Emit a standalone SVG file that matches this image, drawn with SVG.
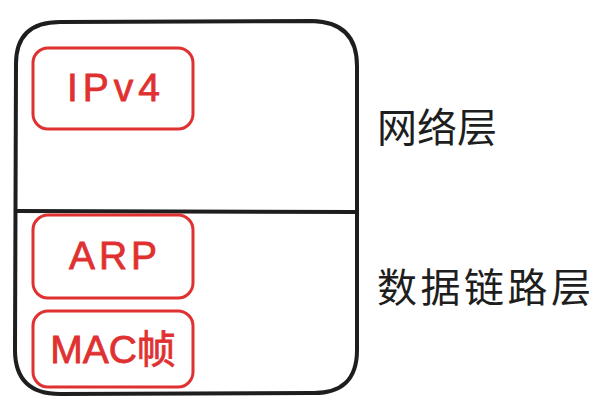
<svg xmlns="http://www.w3.org/2000/svg" width="604" height="403" viewBox="0 0 604 403">
<style>
.outer{fill:none;stroke:#1e1e1e;stroke-width:4;stroke-linecap:round;stroke-linejoin:round}
.box{fill:none;stroke:#e03131;stroke-width:3;stroke-linecap:round}
.t{font-family:"Liberation Sans","Noto Sans CJK SC",sans-serif;fill:#e03131;stroke:#e03131;stroke-width:0.8;font-size:39px;text-anchor:middle}
.lbl{font-family:"Noto Sans CJK SC",sans-serif;fill:#1e1e1e;font-size:40px}
</style>
<rect width="604" height="403" fill="#ffffff"/>
<g id="stack">
<path class="outer" d="M60 22 L312 21 Q357 22 357 66 L357 350 Q357 394 312 393 L60 394 Q15 394 15 350 L16 64 Q16 22 60 22 Z"/>
<path class="outer" d="M16 211 L357 212"/>
</g>
<g id="ipv4">
<rect class="box" x="33" y="48" width="160" height="81" rx="15"/>
<text class="t" x="116" y="101" letter-spacing="5">IPv4</text>
</g>
<g id="arp">
<rect class="box" x="33" y="215" width="160" height="83" rx="15"/>
<text class="t" x="115" y="269" letter-spacing="4">ARP</text>
</g>
<g id="mac">
<rect class="box" x="33" y="311" width="160" height="76" rx="15"/>
<text class="t" x="113" y="363" letter-spacing="0">MAC帧</text>
</g>
<g id="labels">
<text class="lbl" x="377" y="142">网络层</text>
<text class="lbl" x="377" y="302" letter-spacing="3.5">数据链路层</text>
</g>
</svg>
